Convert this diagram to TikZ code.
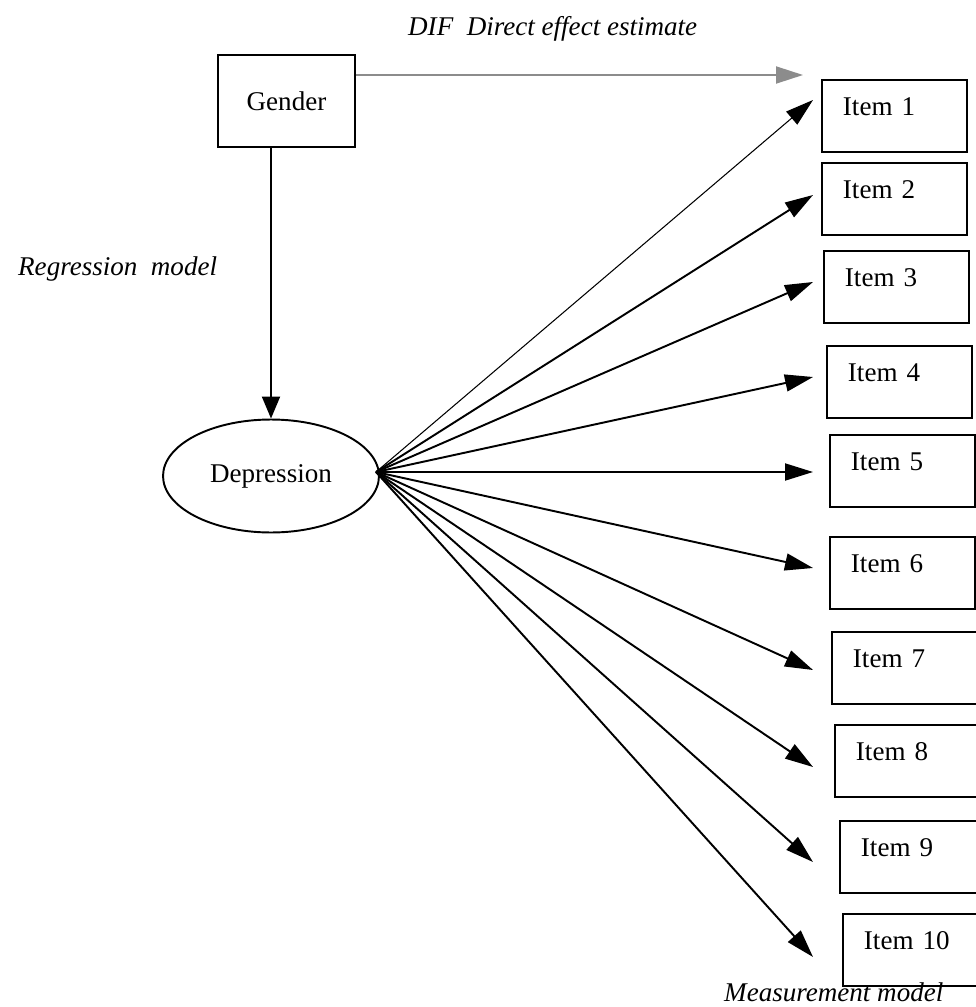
\documentclass[tikz,border=0pt]{standalone}
\usepackage{fontspec}
\setmainfont{Liberation Serif}
\usetikzlibrary{arrows.meta,shapes.geometric}
\definecolor{difgray}{RGB}{140,140,140}

\begin{document}
\begin{tikzpicture}[x=0.02cm, y=-0.02cm,
    every node/.style={font=\fontsize{15.4}{18}\selectfont},
    box/.style={draw, line width=1.1pt, rectangle},
    itembox/.style={box, anchor=north west, minimum width=2.9cm, minimum height=1.44cm,
        text width=2.06cm, align=left, inner xsep=0.42cm, inner ysep=0pt,
        text height=0.72cm, text depth=0.72cm},
    latent/.style={draw, line width=1.1pt, ellipse, minimum width=4.32cm, minimum height=2.26cm, inner sep=0pt},
    loading/.style={line width=1.1pt, -{Triangle[length=0.56cm, width=0.34cm]}},
    regpath/.style={line width=1.1pt, -{Triangle[length=0.44cm, width=0.36cm]}},
    difpath/.style={difgray, line width=1.1pt, -{Triangle[length=0.54cm, width=0.34cm]}},
    caption/.style={font=\fontsize{15.4}{18}\selectfont\itshape}]

    \useasboundingbox (0,0) rectangle (976,1007);

    % Gender and the latent variable
    \node[box, minimum width=2.74cm, minimum height=1.84cm] (gender) at (286.5,101) {Gender};
    \node[latent] (dep) at (271,476) {Depression};

    % Items (measurement model)
    \foreach \i/\x/\y/\t in {1/821/79/100, 2/821/162/195, 3/823/250/282, 4/826/345/377,
        5/829/434/472, 6/829/536/568, 7/831/631/670, 8/834/724/767, 9/839/820/862, 10/842/913/957} {
        \node[itembox] (item\i) at (\x,\y) {Item \i};
        \coordinate (tip\i) at (813,\t);
    }

    % Free ends of the arrows
    \coordinate (fan) at (376,472);
    \coordinate (difend) at (803,75);

    % Arrows
    \draw[difpath] (gender.east |- difend) -- (difend);
    \draw[regpath] (gender.south -| dep.north) -- (dep.north);
    \draw[loading, line width=0.6pt] (fan) -- (tip1);
    \foreach \i in {2,...,10}
        \draw[loading] (fan) -- (tip\i);

    % Labels
    \node[caption, anchor=base west] (dif) at (402,36) {DIF\ \ Direct effect estimate};
    \node[caption, anchor=base west] (reg) at (12,275) {Regression\ \ model};
    \node[caption, anchor=base west] (meas) at (718,1001) {Measurement model};

\end{tikzpicture}
\end{document}
